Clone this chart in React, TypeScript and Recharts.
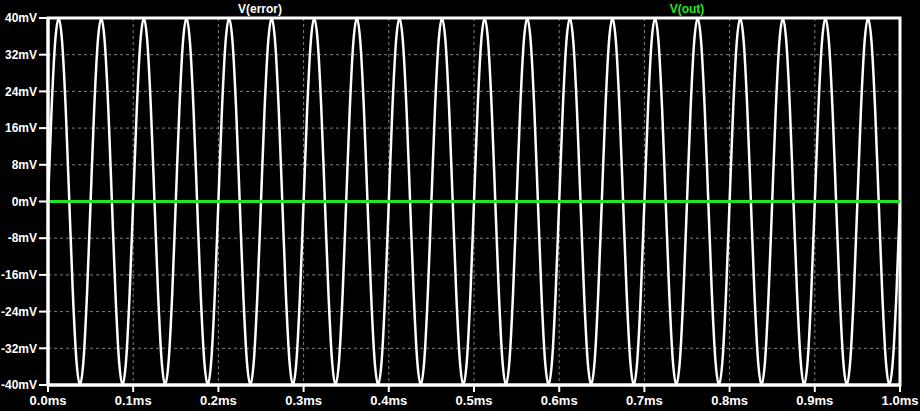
import React from "react";
import {
  LineChart,
  Line,
  XAxis,
  YAxis,
  CartesianGrid,
  ReferenceArea,
} from "recharts";

// ---- Data ----
// Time axis ticks (ms)
const xTicksMs = [0, 0.1, 0.2, 0.3, 0.4, 0.5, 0.6, 0.7, 0.8, 0.9, 1.0];
// Voltage axis ticks (mV)
const yTicksMv = [-40, -32, -24, -16, -8, 0, 8, 16, 24, 32, 40];

// V(error) samples, one every 1/12 of the 0.05 ms period
const SAMPLE_STEP_MS = 0.05 / 12;
const errorMv = [
  0, 20, 34.6, 40, 34.6, 20, 0, -20, -34.6, -40, -34.6, -20,
  0, 20, 34.6, 40, 34.6, 20, 0, -20, -34.6, -40, -34.6, -20,
  0, 20, 34.6, 40, 34.6, 20, 0, -20, -34.6, -40, -34.6, -20,
  0, 20, 34.6, 40, 34.6, 20, 0, -20, -34.6, -40, -34.6, -20,
  0, 20, 34.6, 40, 34.6, 20, 0, -20, -34.6, -40, -34.6, -20,
  0, 20, 34.6, 40, 34.6, 20, 0, -20, -34.6, -40, -34.6, -20,
  0, 20, 34.6, 40, 34.6, 20, 0, -20, -34.6, -40, -34.6, -20,
  0, 20, 34.6, 40, 34.6, 20, 0, -20, -34.6, -40, -34.6, -20,
  0, 20, 34.6, 40, 34.6, 20, 0, -20, -34.6, -40, -34.6, -20,
  0, 20, 34.6, 40, 34.6, 20, 0, -20, -34.6, -40, -34.6, -20,
  0, 20, 34.6, 40, 34.6, 20, 0, -20, -34.6, -40, -34.6, -20,
  0, 20, 34.6, 40, 34.6, 20, 0, -20, -34.6, -40, -34.6, -20,
  0, 20, 34.6, 40, 34.6, 20, 0, -20, -34.6, -40, -34.6, -20,
  0, 20, 34.6, 40, 34.6, 20, 0, -20, -34.6, -40, -34.6, -20,
  0, 20, 34.6, 40, 34.6, 20, 0, -20, -34.6, -40, -34.6, -20,
  0, 20, 34.6, 40, 34.6, 20, 0, -20, -34.6, -40, -34.6, -20,
  0, 20, 34.6, 40, 34.6, 20, 0, -20, -34.6, -40, -34.6, -20,
  0, 20, 34.6, 40, 34.6, 20, 0, -20, -34.6, -40, -34.6, -20,
  0, 20, 34.6, 40, 34.6, 20, 0, -20, -34.6, -40, -34.6, -20,
  0, 20, 34.6, 40, 34.6, 20, 0, -20, -34.6, -40, -34.6, -20,
  0,
];

// V(out) samples: flat at 0 mV across the run
const outTimesMs = [0, 0.25, 0.5, 0.75, 1.0];
const outMv = [0, 0, 0, 0, 0];

const seriesNames = ["V(error)", "V(out)"];

// ---- Tables built for the library ----
const errorData = errorMv.map((v, i) => ({ t: i * SAMPLE_STEP_MS, v }));
const outData = outTimesMs.map((t, i) => ({ t, v: outMv[i] }));

const FONT = "'Liberation Sans', Arial, sans-serif";
const GREEN = "#22e622";

export default function App() {
  return (
    <div
      style={{
        position: "fixed",
        left: 0,
        top: 0,
        width: 920,
        height: 411,
        background: "#000",
      }}
    >
      <LineChart
        width={920}
        height={411}
        margin={{ top: 18, right: 20, bottom: 0, left: 0 }}
        style={{ position: "absolute", left: 0, top: 0 }}
      >
        <CartesianGrid
          stroke="#808080"
          strokeDasharray="3 3"
          strokeWidth={1}
        />
        <XAxis
          type="number"
          dataKey="t"
          domain={[0, 1]}
          ticks={xTicksMs}
          allowDataOverflow
          height={26}
          tickFormatter={(v: number) => `${v.toFixed(1)}ms`}
          tick={{ fill: "#fff", fontSize: 13, fontWeight: "bold", fontFamily: FONT }}
          tickSize={7}
          tickMargin={4}
          tickLine={{ stroke: "#fff", strokeWidth: 2 }}
          axisLine={{ stroke: "#fff", strokeWidth: 3 }}
          interval={0}
        />
        <YAxis
          type="number"
          domain={[-40, 40]}
          ticks={yTicksMv}
          allowDataOverflow
          width={48}
          tickFormatter={(v: number) => `${v}mV`}
          tick={{ fill: "#fff", fontSize: 12, fontWeight: "bold", fontFamily: FONT }}
          tickSize={9}
          tickMargin={2}
          tickLine={{ stroke: "#fff", strokeWidth: 2 }}
          axisLine={{ stroke: "#fff", strokeWidth: 3 }}
          interval={0}
        />
        <ReferenceArea
          x1={0}
          x2={1}
          y1={-40}
          y2={40}
          fill="none"
          fillOpacity={0}
          stroke="#fff"
          strokeWidth={3}
          ifOverflow="visible"
        />
        <Line
          data={errorData}
          dataKey="v"
          type="monotone"
          stroke="#fff"
          strokeWidth={2.5}
          dot={false}
          isAnimationActive={false}
        />
        <Line
          data={outData}
          dataKey="v"
          type="linear"
          stroke={GREEN}
          strokeWidth={3}
          dot={false}
          isAnimationActive={false}
        />
      </LineChart>
      <svg
        width={920}
        height={411}
        style={{ position: "absolute", left: 0, top: 0, pointerEvents: "none" }}
      >
        <text
          x={260}
          y={13}
          textAnchor="middle"
          fill="#fff"
          fontSize={12}
          fontWeight="bold"
          fontFamily={FONT}
        >
          {seriesNames[0]}
        </text>
        <text
          x={687}
          y={13}
          textAnchor="middle"
          fill={GREEN}
          fontSize={12}
          fontWeight="bold"
          fontFamily={FONT}
        >
          {seriesNames[1]}
        </text>
      </svg>
    </div>
  );
}
